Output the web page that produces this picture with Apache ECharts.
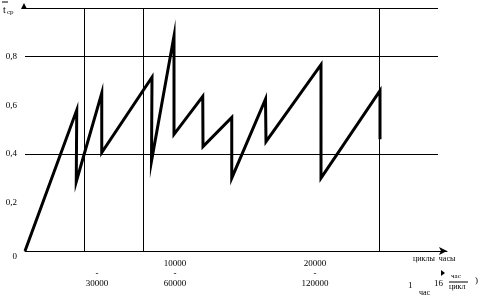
<!DOCTYPE html>
<html><head><meta charset="utf-8">
<script src="https://cdn.jsdelivr.net/npm/echarts@6/dist/echarts.min.js"></script>
<style>html,body{margin:0;padding:0;background:#fff}#c{width:480px;height:302px}</style>
</head><body><div id="c"></div>
<script>
// x in thousands of hours, y = t_ср
const xVals = [0, 20.7, 20.5, 30.7, 30.7, 50.8, 50.6, 59.6, 59.6, 71.1, 71.2, 82.7, 82.7, 96.2, 96.4, 118.4, 118.4, 142, 142];
const yVals = [0, 0.58, 0.285, 0.65, 0.405, 0.715, 0.37, 0.885, 0.48, 0.636, 0.43, 0.55, 0.30, 0.625, 0.45, 0.767, 0.30, 0.66, 0.46];
const yTicks = [0, 0.2, 0.4, 0.6, 0.8];
const hLines = [0.4, 0.8, 1.0];
const vLines = [23.6, 47.4, 141.6];
const xLabelPos = [28.8, 60, 116];
const xLabelText = ['\n-\n30000', '10000\n-\n60000', '20000\n-\n120000'];
const hLineEnd = 165.2;

const chart = echarts.init(document.getElementById('c'), null, {renderer: 'canvas'});
const F = 'Liberation Serif';
const mark = [];
hLines.forEach(v => mark.push([{coord: [0, v]}, {coord: [hLineEnd, v]}]));
vLines.forEach(v => mark.push([{coord: [v, 0]}, {coord: [v, 1]}]));

chart.setOption({
  animation: false,
  backgroundColor: '#fff',
  grid: {left: 25, right: 33, top: 8, bottom: 51},
  xAxis: {
    type: 'value', min: 0, max: 168.8,
    axisLine: {show: true, lineStyle: {color: '#000', width: 1}, symbol: ['none', 'arrow'], symbolSize: [6, 8]},
    axisTick: {show: false}, splitLine: {show: false},
    axisLabel: {customValues: xLabelPos, formatter: (v) => xLabelText[xLabelPos.indexOf(v)] || '', color: '#000', fontFamily: F, fontSize: 9, lineHeight: 10, margin: 8, showMinLabel: true, showMaxLabel: true}
  },
  yAxis: {
    type: 'value', min: 0, max: 1,
    axisLine: {show: false}, axisTick: {show: false}, splitLine: {show: false},
    axisLabel: {customValues: yTicks, color: '#000', fontFamily: F, fontSize: 9, margin: 8,
      formatter: (v) => v === 0 ? '{z|0}' : String(v.toFixed(1)).replace('.', ','),
      rich: {z: {padding: [12, 0, 0, 0], fontFamily: F, fontSize: 9, color: '#000'}}}
  },
  series: [{
    type: 'line', data: xVals.map((x, i) => [x, yVals[i]]),
    showSymbol: false, symbol: 'none',
    lineStyle: {color: '#000', width: 3, join: 'miter', miterLimit: 12},
    markLine: {silent: true, symbol: 'none', label: {show: false}, lineStyle: {color: '#000', width: 1, type: 'solid'}, data: mark},
    markPoint: {silent: true, data: [{coord: [0, 1], symbol: 'triangle', symbolSize: [6, 6], symbolOffset: [-1, -2], itemStyle: {color: '#000'}, label: {show: false}}]}
  }],
  graphic: [
    {type: 'text', left: 3, top: 5, style: {text: 't', fontFamily: F, fontSize: 10, fill: '#000'}},
    {type: 'line', shape: {x1: 2, y1: 2, x2: 8, y2: 2}, style: {stroke: '#000', lineWidth: 1}},
    {type: 'text', left: 7, top: 9, style: {text: 'ср', fontFamily: F, fontSize: 7, fill: '#000'}},
    {type: 'text', left: 413, top: 255, style: {text: 'циклы  часы', fontFamily: F, fontSize: 8, fill: '#000'}},
    {type: 'polygon', shape: {points: [[441, 270], [445, 273], [441, 276]]}, style: {fill: '#000'}},
    {type: 'text', left: 408, top: 281, style: {text: '1', fontFamily: F, fontSize: 9, fill: '#000'}},
    {type: 'text', left: 419, top: 289, style: {text: 'час', fontFamily: F, fontSize: 8, fill: '#000'}},
    {type: 'text', left: 434, top: 279, style: {text: '16', fontFamily: F, fontSize: 9, fill: '#000'}},
    {type: 'text', left: 451, top: 273, style: {text: 'час', fontFamily: F, fontSize: 7, fill: '#000'}},
    {type: 'line', shape: {x1: 449, y1: 282, x2: 468, y2: 282}, style: {stroke: '#000', lineWidth: 1}},
    {type: 'text', left: 449, top: 283, style: {text: 'цикл', fontFamily: F, fontSize: 8, fill: '#000'}},
    {type: 'text', left: 475, top: 276, style: {text: ')', fontFamily: F, fontSize: 9, fill: '#000'}}
  ]
});
</script></body></html>
